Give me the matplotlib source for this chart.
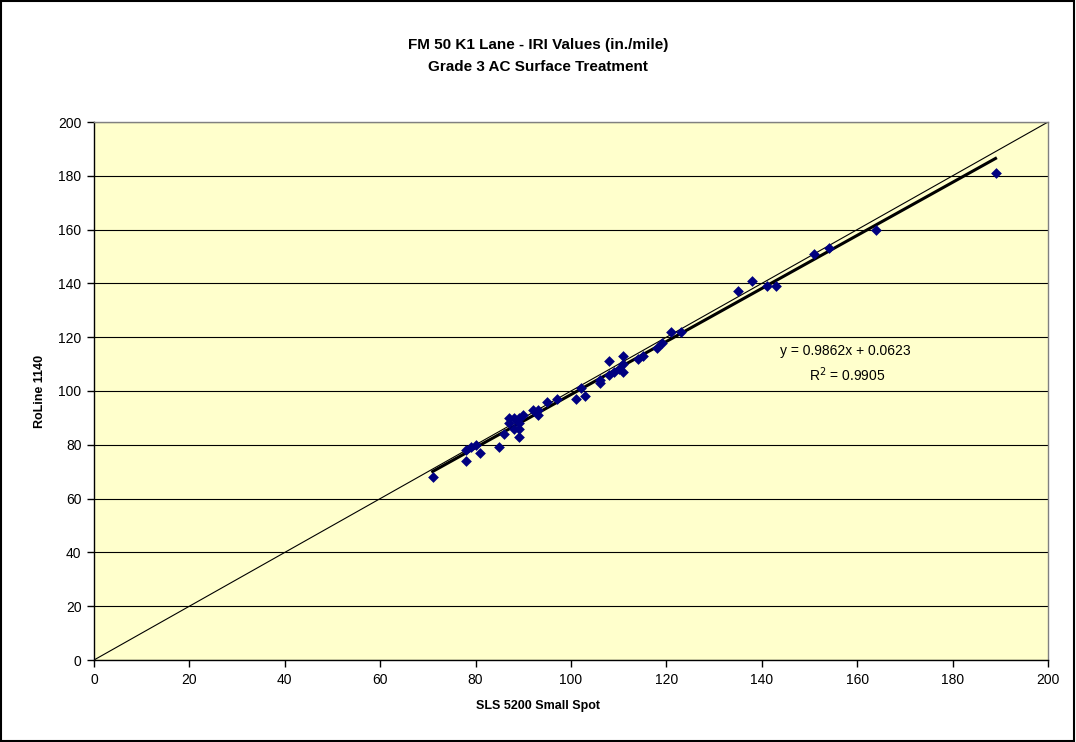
import matplotlib
matplotlib.use("Agg")
import matplotlib.pyplot as plt
import numpy as np

plt.rcParams['font.family'] = ['Liberation Sans', 'DejaVu Sans']

sls = [71, 78, 78, 79, 80, 81, 85, 86, 87, 87, 88, 88, 89, 89, 89, 89, 90, 92, 93, 93,
       95, 97, 101, 102, 103, 106, 106, 108, 108, 109, 110, 111, 111, 111, 114, 115,
       118, 119, 121, 123, 135, 138, 141, 143, 151, 154, 164, 189]
roline = [68, 74, 78, 79, 80, 77, 79, 84, 90, 88, 86, 90, 83, 86, 90, 88, 91, 93, 91, 93,
          96, 97, 97, 101, 98, 103, 104, 106, 111, 107, 108, 107, 113, 110, 112, 113,
          116, 118, 122, 122, 137, 141, 139, 139, 151, 153, 160, 181]
slope = 0.9862
intercept = 0.0623

title = "FM 50 K1 Lane - IRI Values (in./mile)\nGrade 3 AC Surface Treatment"
xlabel = "SLS 5200 Small Spot"
ylabel = "RoLine 1140"
eq_text = "y = 0.9862x + 0.0623"
r2_text = "R$^2$ = 0.9905"

fig = plt.figure(figsize=(10.76, 7.42), dpi=100)
fig.patches.append(plt.Rectangle((0.001, 0.001), 0.997, 0.997, transform=fig.transFigure,
                                 fill=False, edgecolor='black', linewidth=1.5))
ax = fig.add_axes([94/1076, 1-660/742, (1048-94)/1076, (660-122)/742])
ax.set_facecolor('#FFFFCC')
ax.set_xlim(0, 200)
ax.set_ylim(0, 200)
ax.set_xticks(np.arange(0, 201, 20))
ax.set_yticks(np.arange(0, 201, 20))
ax.yaxis.grid(True, color='black', linewidth=0.8)
ax.set_axisbelow(True)
for s in ax.spines.values():
    s.set_color('#808080')
    s.set_linewidth(1.0)
ax.spines['left'].set_color('black')
ax.spines['bottom'].set_color('black')
ax.tick_params(direction='out', length=5, width=1, labelsize=10, colors='black', pad=4)

# 1:1 line
ax.plot([0, 200], [0, 200], color='black', linewidth=0.8)
# linear trend line
xs = np.array([min(sls), max(sls)])
ax.plot(xs, slope * xs + intercept, color='black', linewidth=2.2)
ax.scatter(sls, roline, marker='D', s=30, color='#000080', zorder=3, linewidths=0)

fig.text(845/1076, 1-351/742, eq_text, fontsize=10, ha='center', va='center')
fig.text(847/1076, 1-375/742, r2_text, fontsize=10, ha='center', va='center')

fig.text(0.5, 1-56/742, title, fontsize=11, fontweight='bold', ha='center', va='center',
         linespacing=1.75)
fig.text(0.5, 1-706/742, xlabel, fontsize=9, fontweight='bold', ha='center', va='center')
fig.text(40/1076, 1-391/742, ylabel, fontsize=9, fontweight='bold', ha='center', va='center',
         rotation=90)

fig.savefig("out.png", dpi=100)
